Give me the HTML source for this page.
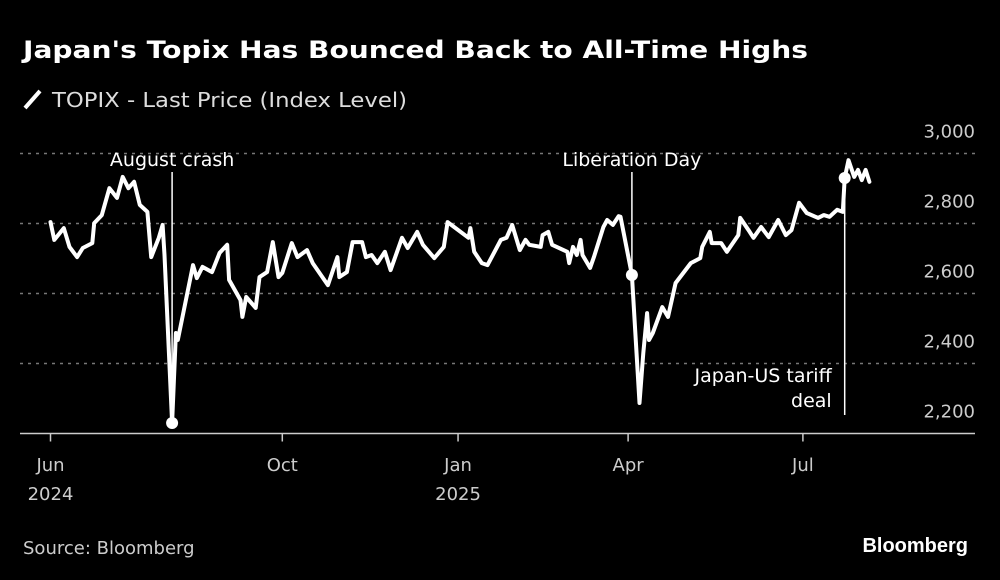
<!DOCTYPE html>
<html><head><meta charset="utf-8"><style>
html,body{margin:0;padding:0;background:#000;}
svg{display:block;font-family:"DejaVu Sans","Liberation Sans",sans-serif;}
</style></head><body>
<svg width="1000" height="580" viewBox="0 0 1000 580">
<rect width="1000" height="580" fill="#000"/>
<text x="23" y="58" fill="#fff" font-size="24" font-weight="bold" textLength="785" lengthAdjust="spacingAndGlyphs">Japan's Topix Has Bounced Back to All-Time Highs</text>
<line x1="25" y1="108" x2="40" y2="91" stroke="#fff" stroke-width="4"/>
<text x="52" y="107" fill="#ddd" font-size="20" textLength="355" lengthAdjust="spacingAndGlyphs">TOPIX - Last Price (Index Level)</text>
<g id="grid"></g>
<g id="xaxis"></g>
<g id="annot"></g>
<g id="series"></g>
<text x="23" y="554" fill="#ccc" font-size="18">Source: Bloomberg</text>
<text x="968" y="552" fill="#fff" font-size="20" font-weight="bold" text-anchor="end" font-family="Liberation Sans, sans-serif">Bloomberg</text>
</svg>
<script>
const days=[0,2,7,10,14,17,22,23,27,31,35,38,41,44,47,51,53,57,59,60,64,66,67,75,77,80,85,89,93,94,100,101,103,108,110,114,117,120,122,127,130,135,138,146,151,152,156,159,164,166,169,172,176,179,185,188,193,196,202,207,209,220,221,223,227,230,237,240,243,247,250,252,258,259,262,264,272,273,275,277,279,280,284,286,291,293,296,299,300,306,310,312,314,315,317,322,325,329,337,342,343,347,348,353,356,362,363,368,370,374,378,383,387,390,394,398,404,407,410,414,417,418,420,423,425,427,429,431];
const values=[2804,2753,2787,2733,2704,2730,2744,2801,2824,2901,2873,2933,2901,2919,2853,2833,2704,2759,2796,2710,2230,2487,2467,2681,2644,2676,2661,2716,2739,2639,2581,2533,2590,2559,2647,2661,2747,2647,2659,2744,2704,2724,2687,2624,2704,2647,2661,2747,2747,2704,2710,2687,2719,2667,2759,2730,2776,2739,2701,2733,2804,2759,2787,2719,2687,2681,2753,2759,2796,2724,2753,2739,2733,2767,2776,2739,2719,2687,2733,2710,2753,2710,2673,2704,2790,2810,2796,2821,2819,2653,2287,2430,2544,2467,2487,2561,2533,2630,2687,2701,2733,2776,2744,2744,2719,2767,2816,2776,2759,2790,2761,2810,2767,2781,2859,2830,2816,2824,2819,2839,2833,2930,2981,2933,2953,2924,2953,2919];
const yTicks=[2200,2400,2600,2800,3000];
const yTickLabels=["2,200","2,400","2,600","2,800","3,000"];
const xTickDays=[0,122,214.5,304,396];
const xTickLabels=[["Jun","2024"],["Oct",""],["Jan","2025"],["Apr",""],["Jul",""]];
const annotDays=[64,306,418];
const annotValues=[2230,2653,2930];
const annotLabels=[["August crash"],["Liberation Day"],["Japan-US tariff","deal"]];

const NS="http://www.w3.org/2000/svg";
const X=d=>50.5+d*1.9;
const Y=v=>153.5+(3000-v)*0.35;
function mk(tag,attrs,parent){const e=document.createElementNS(NS,tag);for(const k in attrs)e.setAttribute(k,attrs[k]);parent.appendChild(e);return e;}
const grid=document.getElementById('grid'),xa=document.getElementById('xaxis'),an=document.getElementById('annot'),se=document.getElementById('series');
yTicks.forEach((v,i)=>{
  if(i>0){const l=mk('line',{x1:20,x2:975,y1:Y(v),y2:Y(v),stroke:'#777','stroke-width':1.5,'stroke-dasharray':'3 5'},grid);
  
  }
  const t=mk('text',{x:975,y:Y(v)-16,fill:'#ccc','font-size':18,'text-anchor':'end'},grid);
  t.textContent=yTickLabels[i];
  
  
});
const ax=mk('line',{x1:20,x2:975,y1:Y(2200),y2:Y(2200),stroke:'#ccc','stroke-width':1.5},xa);


xTickDays.forEach((d,i)=>{
  const tk=mk('line',{x1:X(d),x2:X(d),y1:Y(2200),y2:Y(2200)+8,stroke:'#ccc','stroke-width':1.5},xa);
  
  
  const t=mk('text',{x:X(d),y:471,fill:'#ccc','font-size':18,'text-anchor':'middle'},xa);
  t.textContent=xTickLabels[i][0];
  
  
  if(xTickLabels[i][1]){const t2=mk('text',{x:X(d),y:500,fill:'#ccc','font-size':18,'text-anchor':'middle'},xa);
  t2.textContent=xTickLabels[i][1];
  
  }
});
let dstr='';
days.forEach((d,i)=>{dstr+=(i?'L':'M')+X(d).toFixed(1)+','+Y(values[i]).toFixed(1);});
const p=mk('path',{d:dstr,fill:'none',stroke:'#fff','stroke-width':4,'stroke-linejoin':'round','stroke-linecap':'round'},se);


annotDays.forEach((d,i)=>{
  const x=X(d);
  let y1,y2;
  if(i<2){y1=172;y2=Y(annotValues[i]);}
  else {y1=Y(annotValues[i]);y2=415;}
  const l=mk('line',{x1:x,x2:x,y1:y1,y2:y2,stroke:'#fff','stroke-width':1.5},an);
  
  
  const c=mk('circle',{cx:x,cy:Y(annotValues[i]),r:6,fill:'#fff'},se);
  
  
  annotLabels[i].forEach((s,j)=>{
    let tx,ty,anc;
    if(i<2){tx=x;ty=166;anc='middle';}
    else{tx=x-13;ty=382+j*25;anc='end';}
    const t=mk('text',{x:tx,y:ty,fill:'#fff','font-size':19,'text-anchor':anc},an);
    t.textContent=s;
    
    
  });
});
</script>
</body></html>
